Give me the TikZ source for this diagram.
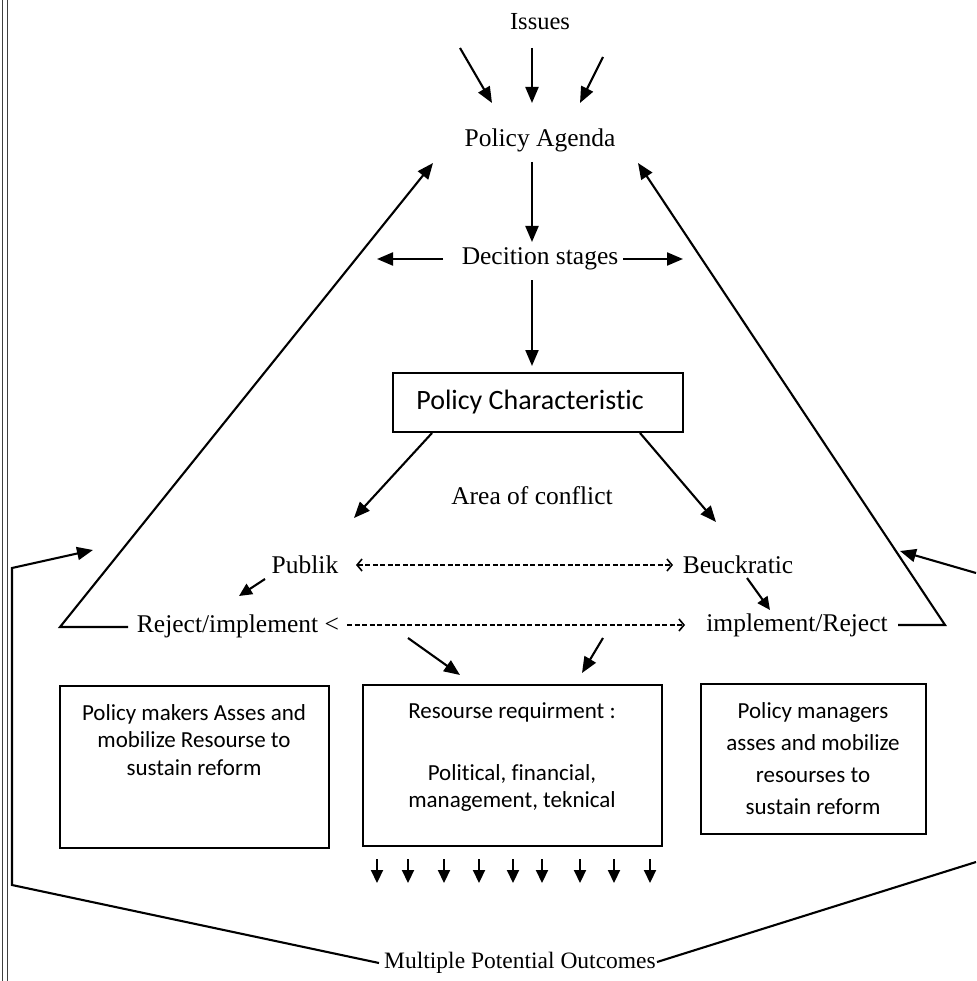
\documentclass[tikz,border=0pt]{standalone}
\usepackage{fontspec}
\setmainfont{Liberation Serif}
\newfontfamily\boxfont[Ligatures={NoCommon,NoRequired,NoContextual}]{Carlito}
\usetikzlibrary{arrows.meta}
\begin{document}
\begin{tikzpicture}[x=1pt,y=-1pt,line width=2.1pt,
  ser/.style={font=\fontsize{25.5}{30}\selectfont,inner sep=0pt},
  sbox/.style={draw,line width=2pt,inner sep=0pt},
  btxt/.style={font=\boxfont\fontsize{23}{27.5}\selectfont,align=center,inner sep=0pt},
  arr/.style={-{Triangle[length=16pt,width=13pt]}},
  sarr/.style={-{Triangle[length=13pt,width=12pt]}},
  dsh/.style={line width=1.4pt,dash pattern=on 5pt off 2.5pt,
    >={Straight Barb[length=5pt,width=12pt,line width=1.6pt]}},
  edge/.style={line width=1pt,black!75}
]
\useasboundingbox (0,0) rectangle (976,981);

% scan edge lines
\coordinate (e1t) at (2.5,0); \coordinate (e1b) at (2.5,981);
\coordinate (e2t) at (7,0);   \coordinate (e2b) at (7,981);
\draw[edge] (e1t) -- (e1b);
\draw[edge] (e2t) -- (e2b);

% texts
\node[ser,font=\fontsize{24.5}{28}\selectfont] (issues) at (540,22) {Issues};
\node[ser] (agenda) at (540,140) {Policy Agenda};
\node[ser] (decision) at (540,259) {Decition stages};
\node[sbox,minimum width=290pt,minimum height=59pt] (pchar) at (538,402.5) {};
\node[font=\boxfont\fontsize{28}{30}\selectfont,inner sep=0pt] (pchart) at (530,402) {Policy Characteristic};
\node[ser] (area) at (532,496) {Area of conflict};
\node[ser] (publik) at (305,565) {Publik};
\node[ser] (beuck) at (738,565) {Beuckratic};
\node[ser] (rejimp) at (238,626) {Reject/implement <};
\node[ser] (imprej) at (797,625) {implement/Reject};
\node[ser,font=\fontsize{23.5}{28}\selectfont] (outcomes) at (520,963) {Multiple Potential Outcomes};

% boxes
\node[sbox,minimum width=269pt,minimum height=162pt] (lbox) at (194.5,767) {};
\node[btxt] (ltxt) at (194,740) {Policy makers Asses and\\mobilize Resourse to\\sustain reform};
\node[sbox,minimum width=299pt,minimum height=161pt] (mbox) at (512.5,765.5) {};
\node[btxt] (mtxt1) at (512,712) {Resourse requirment :};
\node[btxt] (mtxt2) at (512,788) {Political, financial,\\management, teknical};
\node[sbox,minimum width=225pt,minimum height=150pt] (rbox) at (813.5,759) {};
\node[btxt,font=\boxfont\fontsize{23}{32}\selectfont] (rtxt) at (813,759) {Policy managers\\asses and mobilize\\resourses to\\sustain reform};

% issues arrows
\coordinate (i1s) at (460,48);  \coordinate (i1e) at (492,103);
\coordinate (i2s) at (532,48);  \coordinate (i2e) at (532,103);
\coordinate (i3s) at (603,57);  \coordinate (i3e) at (580,103);
\draw[arr] (i1s) -- (i1e);
\draw[arr] (i2s) -- (i2e);
\draw[arr] (i3s) -- (i3e);

% agenda -> decision -> box
\coordinate (a1s) at (532,162); \coordinate (a1e) at (532,242);
\draw[arr] (a1s) -- (a1e);
\coordinate (dls) at (443,259); \coordinate (dle) at (377,259);
\coordinate (drs) at (623,259); \coordinate (dre) at (683,259);
\draw[arr] (dls) -- (dle);
\draw[arr] (drs) -- (dre);
\coordinate (d2s) at (532,280); \coordinate (d2e) at (532,366);
\draw[arr] (d2s) -- (d2e);

% box -> publik / beuckratic
\coordinate (pls) at (432,433); \coordinate (ple) at (354,518);
\coordinate (prs) at (640,433); \coordinate (pre) at (716,522);
\draw[arr] (pls) -- (ple);
\draw[arr] (prs) -- (pre);

% dashed rows
\coordinate (r1s) at (356,565); \coordinate (r1e) at (673,565);
\draw[dsh,<->] (r1s) -- (r1e);
\coordinate (r2s) at (347,625); \coordinate (r2e) at (685,625);
\draw[dsh,->] (r2s) -- (r2e);

% publik -> reject, beuck -> implement
\coordinate (p2s) at (265,579); \coordinate (p2e) at (239,596);
\draw[sarr] (p2s) -- (p2e);
\coordinate (b2s) at (747,578); \coordinate (b2e) at (770,610);
\draw[sarr] (b2s) -- (b2e);

% big feedback lines
\coordinate (lh) at (128,627); \coordinate (lc) at (60,627); \coordinate (lt) at (433,163);
\draw[arr] (lh) -- (lc) -- (lt);
\coordinate (rh) at (898,625); \coordinate (rc) at (945,625); \coordinate (rt) at (638,163);
\draw[arr] (rh) -- (rc) -- (rt);

% row -> resource box
\coordinate (m1s) at (408,638); \coordinate (m1e) at (460,675);
\coordinate (m2s) at (603,638); \coordinate (m2e) at (582,673);
\draw[arr] (m1s) -- (m1e);
\draw[arr] (m2s) -- (m2e);

% bottom arrows
\foreach \x [count=\i] in {377,408,444,479,513,542,580,614,650} {
  \coordinate (bs\i) at (\x,859); \coordinate (be\i) at (\x,883);
  \draw[sarr] (bs\i) -- (be\i);
}

% outer outcome lines
\coordinate (ol0) at (379,963); \coordinate (ol1) at (12,885);
\coordinate (ol2) at (12,568); \coordinate (ol3) at (93,550);
\draw[arr] (ol0) -- (ol1) -- (ol2) -- (ol3);
\coordinate (or0) at (657,962); \coordinate (or1) at (976,862);
\draw (or0) -- (or1);
\coordinate (or2) at (976,573); \coordinate (or3) at (900,551);
\draw[arr] (or2) -- (or3);
\end{tikzpicture}
\end{document}
